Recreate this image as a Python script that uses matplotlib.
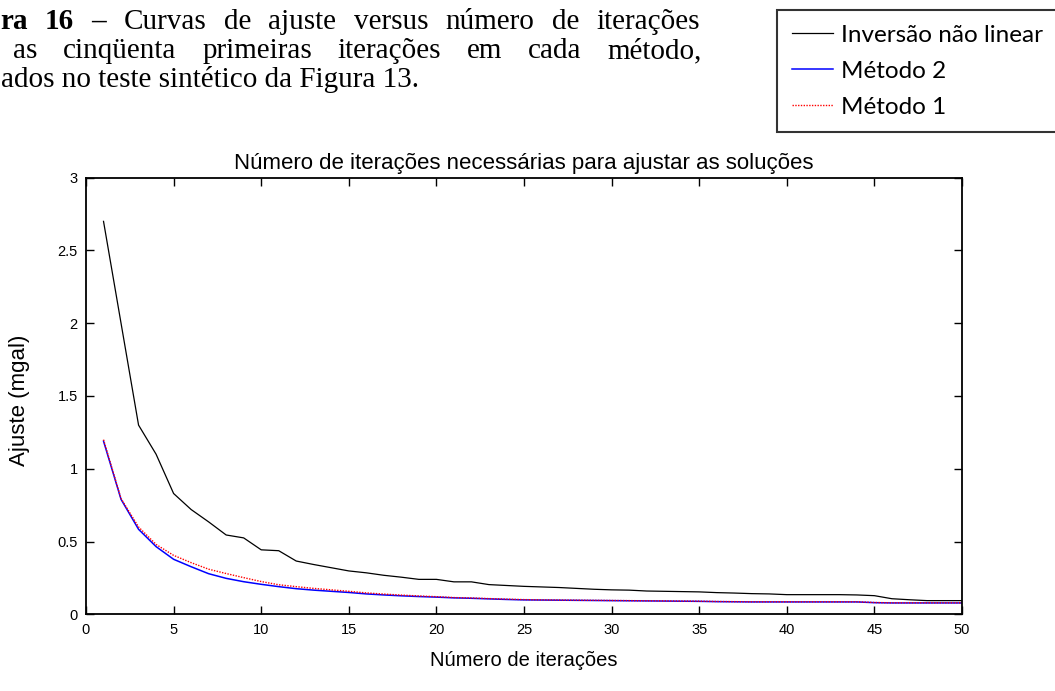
import matplotlib
matplotlib.use("Agg")
import matplotlib.pyplot as plt

# Iteration index and misfit curves (mgal)
iteracoes = list(range(1, 51))

inversao_nao_linear = [
    2.70, 2.00, 1.30, 1.10, 0.83, 0.72, 0.635, 0.545, 0.525, 0.443,
    0.437, 0.366, 0.342, 0.320, 0.298, 0.285, 0.268, 0.255, 0.240, 0.240,
    0.223, 0.223, 0.204, 0.198, 0.192, 0.188, 0.184, 0.178, 0.172, 0.168,
    0.166, 0.160, 0.158, 0.156, 0.154, 0.149, 0.146, 0.142, 0.140, 0.135,
    0.135, 0.135, 0.135, 0.133, 0.128, 0.107, 0.100, 0.094, 0.094, 0.094,
]

metodo_2 = [
    1.19, 0.79, 0.584, 0.465, 0.378, 0.327, 0.279, 0.247, 0.224, 0.206,
    0.190, 0.176, 0.166, 0.158, 0.150, 0.140, 0.133, 0.127, 0.122, 0.118,
    0.113, 0.110, 0.106, 0.102, 0.099, 0.098, 0.097, 0.096, 0.095, 0.094,
    0.093, 0.092, 0.091, 0.090, 0.089, 0.087, 0.086, 0.085, 0.085, 0.085,
    0.085, 0.085, 0.085, 0.085, 0.080, 0.078, 0.078, 0.078, 0.078, 0.078,
]

metodo_1 = [
    1.20, 0.795, 0.600, 0.480, 0.405, 0.355, 0.310, 0.280, 0.252, 0.225,
    0.203, 0.190, 0.178, 0.168, 0.158, 0.147, 0.139, 0.132, 0.126, 0.121,
    0.115, 0.112, 0.108, 0.104, 0.101, 0.099, 0.098, 0.097, 0.096, 0.095,
    0.094, 0.093, 0.092, 0.091, 0.090, 0.088, 0.087, 0.086, 0.086, 0.086,
    0.086, 0.086, 0.086, 0.086, 0.081, 0.079, 0.079, 0.079, 0.079, 0.079,
]

serie_labels = ["Inversão não linear", "Método 2", "Método 1"]
x_ticks = list(range(0, 51, 5))
y_ticks = [0, 0.5, 1, 1.5, 2, 2.5, 3]
y_tick_labels = ["0", "0.5", "1", "1.5", "2", "2.5", "3"]

titulo = "Número de iterações necessárias para ajustar as soluções"
rotulo_x = "Número de iterações"
rotulo_y = "Ajuste (mgal)"

legenda_linhas = [
    [("ra", True), ("16", True), ("–", True), ("Curvas", False), ("de", False),
     ("ajuste", False), ("versus", False), ("número", False), ("de", False),
     ("iterações", False)],
    [("as", False), ("cinqüenta", False), ("primeiras", False), ("iterações", False),
     ("em", False), ("cada", False), ("método,", False)],
]
legenda_ultima = "ados no teste sintético da Figura 13."

W, H = 1055, 691
fig = plt.figure(figsize=(W / 100, H / 100), dpi=100)
fig.patch.set_facecolor("white")

sans = "Liberation Sans"
serif = "Liberation Serif"

ax = fig.add_axes([86 / W, 1 - 614.3 / H, 876 / W, 436.6 / H])
l_preto, = ax.plot(iteracoes, inversao_nao_linear, color="black", lw=0.9)
l_azul, = ax.plot(iteracoes, metodo_2, color="#0000ff", lw=1.1)
l_verm, = ax.plot(iteracoes, metodo_1, color="#ff0000", lw=1.0, ls=(0, (1, 1)))

ax.set_xlim(0, 50)
ax.set_ylim(0, 3)
ax.set_xticks(x_ticks)
ax.set_xticklabels([str(t) for t in x_ticks], family=sans)
ax.set_yticks(y_ticks)
ax.set_yticklabels(y_tick_labels, family=sans)
ax.tick_params(direction="in", length=6, width=1, top=True, right=True,
               labelsize=10.5, pad=6, colors="black")
for s in ax.spines.values():
    s.set_linewidth(1.3)

ax.set_title(titulo, family=sans, fontsize=16, pad=6)
ax.set_xlabel(rotulo_x, family=sans, fontsize=14.5)
ax.xaxis.set_label_coords(0.5, -0.085)
ax.set_ylabel(rotulo_y, family=sans, fontsize=16)
ax.yaxis.set_label_coords(-0.064, 0.49)

leg = fig.legend([l_preto, l_azul, l_verm], serie_labels, loc="upper left",
                 bbox_to_anchor=(777 / W, 1 - 10 / H), borderaxespad=0,
                 prop={"family": "Lato", "size": 17.5}, frameon=True, fancybox=False,
                 edgecolor="#333333", framealpha=1, handlelength=1.7,
                 handletextpad=0.33, borderpad=0.6, labelspacing=0.62)
leg.get_frame().set_linewidth(1.5)

# Caption text (justified lines)
renderer = fig.canvas.get_renderer()
cap_size = 21


def linha_justificada(palavras, x0, x1, yb):
    textos = []
    for palavra, negrito in palavras:
        t = fig.text(0, 1 - yb / H, palavra, fontsize=cap_size, family=serif,
                     fontweight="bold" if negrito else "normal",
                     va="baseline", ha="left")
        textos.append(t)
    larguras = [t.get_window_extent(renderer).width for t in textos]
    gap = (x1 - x0 - sum(larguras)) / (len(textos) - 1)
    x = x0
    for t, w in zip(textos, larguras):
        t.set_x(x / W)
        x += w + gap


linha_justificada(legenda_linhas[0], 0, 700, 29)
linha_justificada(legenda_linhas[1], 13, 702, 58)
fig.text(1 / W, 1 - 87 / H, legenda_ultima, fontsize=cap_size, family=serif,
         va="baseline", ha="left")

fig.savefig("out.png", dpi=100)
